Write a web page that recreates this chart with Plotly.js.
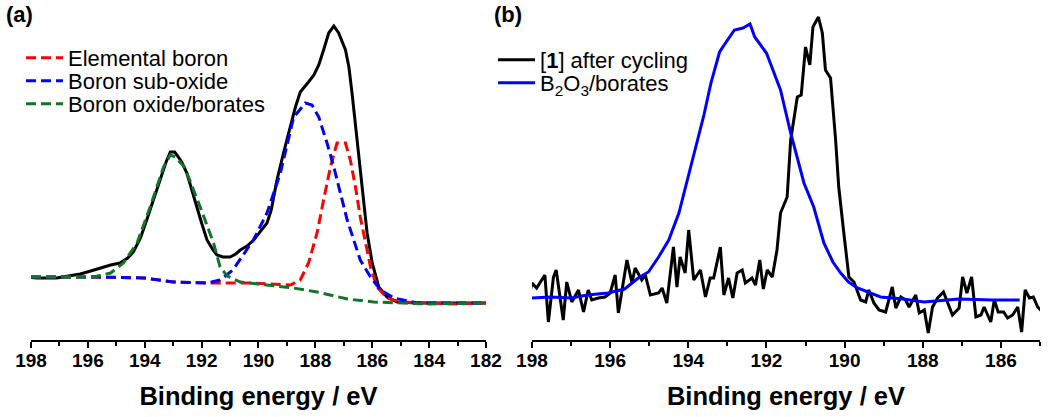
<!DOCTYPE html>
<html>
<head>
<meta charset="utf-8">
<script src="https://cdn.plot.ly/plotly-3.0.1.min.js"></script>
<style>html,body{margin:0;padding:0;background:#fff;}#chart{width:1050px;height:417px;}</style>
</head>
<body>
<div id="chart"></div>
<script>
// Panel (a): B 1s fit
const totalA_E = [198.15,197.8,197.1,196.6,196.27,195.9,195.57,195.2,194.87,194.6,194.4,194.15,193.93,193.7,193.46,193.25,193.1,192.95,192.87,192.7,192.52,192.35,192.17,192.0,191.81,191.6,191.46,191.25,191.0,190.8,190.64,190.4,190.17,189.95,189.7,189.55,189.35,189.12,188.88,188.7,188.53,188.4,188.24,188.05,187.88,187.71,187.53,187.35,187.18,186.94,186.82,186.71,186.53,186.35,186.18,186.0,185.77,185.48,185.12,184.42,183.5,182.5,181.95];
const totalA_I = [63,62,62,64,66,69,72,75,77,82,88,102,120,140,160,178,188,188,185,178,167,150,133,117,100,90,85,83,83,86,90,94,100,108,117,130,160,187,213,233,248,252,258,265,275,290,307,314,307,290,273,247,200,153,107,77,53,43,38,37,37,37,37];

const elemA_E = [198,196,194,193,191.6,190.29,188.88,188.53,188.24,187.94,187.71,187.47,187.24,186.94,186.77,186.59,186.42,186.24,186.06,185.83,185.48,185.0,184,183,182];
const elemA_I = [63,63,62,58,57,57,55,60,77,107,140,173,197,197,180,153,123,97,73,53,42,38,37,36,37];

const subA_E = [198,195.57,194.05,193.0,191.8,191.35,190.9,190.18,189.7,189.23,188.76,188.35,188.12,187.88,187.59,187.35,187.12,186.88,186.65,186.42,186.06,185.71,185.24,184.42,183,182];
const subA_I = [63,63,62,58,57,60,70,100,127,167,223,237,235,223,197,173,147,120,100,80,63,50,42,37,37,37];

const oxA_E = [198,195.8,195.2,194.75,194.27,193.81,193.34,193.1,192.93,192.6,192.05,191.58,191.35,191.1,190.64,189.7,188.77,187.94,186.87,185.95,185.0,184,182];
const oxA_I = [63,63,67,77,97,133,173,185,183,173,133,97,73,64,58,55,52,48,41,38,37,36,37];

// Panel (b)
const cycB_E = [198.12,198.0,197.88,197.67,197.58,197.45,197.38,197.2,197.11,196.98,196.81,196.68,196.56,196.47,196.3,196.13,196.0,195.87,195.79,195.57,195.44,195.36,195.19,195.1,194.97,194.76,194.67,194.55,194.38,194.29,194.21,194.08,193.99,193.86,193.69,193.56,193.44,193.35,193.18,193.09,192.97,192.86,192.75,192.62,192.54,192.37,192.28,192.17,192.08,191.98,191.85,191.73,191.64,191.47,191.38,191.3,191.21,191.11,191.0,190.89,190.81,190.67,190.57,190.49,190.36,190.23,190.15,190.02,189.89,189.76,189.59,189.46,189.38,189.25,189.12,188.95,188.78,188.69,188.56,188.44,188.35,188.18,188.09,187.96,187.86,187.75,187.62,187.47,187.37,187.24,187.07,186.98,186.87,186.75,186.64,186.51,186.43,186.26,186.17,186.07,185.93,185.83,185.7,185.57,185.47,185.38,185.27,185.17,185.06,184.93];
const cycB_I = [35,57,52,65,18,63,70,20,58,38,50,28,50,40,42,43,47,65,27,80,57,72,60,65,45,47,52,37,93,53,83,67,110,60,70,43,62,62,93,45,62,42,67,70,57,62,55,80,51,70,63,90,127,143,200,220,243,245,293,275,313,323,307,270,262,200,153,107,63,58,40,38,50,37,30,28,53,32,43,40,33,45,27,30,7,33,42,48,38,25,32,63,47,63,23,25,33,18,40,28,28,22,25,33,8,50,42,43,33,28];

const refB_E = [198,197.53,197.0,196.58,196.06,195.63,195.28,195.02,194.76,194.5,194.24,193.98,193.81,193.6,193.42,193.2,193.03,192.82,192.6,192.42,192.3,192.0,191.64,191.38,191.04,190.79,190.53,190.3,190.1,189.9,189.67,189.3,189.08,188.5,187.97,187.08,186.21,185.52];
const refB_I = [42,43,42,45,47,51,62,68,83,100,127,167,193,225,257,288,298,310,312,316,303,287,250,207,157,133,97,78,67,58,52,46,43,41,38,41,40,40];

const tickVals = [198,196,194,192,190,188,186,184,182];
const tickText = ['198','196','194','192','190','188','186','184','182'];

const FONT = 'Liberation Sans, Arial, sans-serif';
const RED = '#ff0000', BLUE = '#0000ff', GREEN = '#11742a', BLACK = '#000000';
const DASH = '10px,5px';

const traces = [
  {x: totalA_E, y: totalA_I, xaxis:'x', yaxis:'y', mode:'lines', line:{color:BLACK, width:3}, showlegend:false, name:'Total'},
  {x: elemA_E, y: elemA_I, xaxis:'x', yaxis:'y', mode:'lines', line:{color:RED, width:3, dash:DASH}, name:'Elemental boron', legend:'legend'},
  {x: subA_E, y: subA_I, xaxis:'x', yaxis:'y', mode:'lines', line:{color:BLUE, width:3, dash:DASH}, name:'Boron sub-oxide', legend:'legend2'},
  {x: oxA_E, y: oxA_I, xaxis:'x', yaxis:'y', mode:'lines', line:{color:GREEN, width:3, dash:DASH}, name:'Boron oxide/borates', legend:'legend3'},
  {x: cycB_E, y: cycB_I, xaxis:'x2', yaxis:'y2', mode:'lines', line:{color:BLACK, width:3}, name:'[<b>1</b>] after cycling', legend:'legend4'},
  {x: refB_E, y: refB_I, xaxis:'x2', yaxis:'y2', mode:'lines', line:{color:BLUE, width:3}, name:'B<sub>2</sub>O<sub>3</sub>/borates', legend:'legend5'}
];

const xCommon = {
  showline:true, linecolor:'#000', linewidth:2, mirror:false,
  ticks:'outside', ticklen:6, tickwidth:2, tickcolor:'#000',
  ticklabelstandoff:-4,
  showgrid:false, zeroline:false,
  tickfont:{family:FONT, size:19, color:'#000', weight:'bold'},
  minor:{dtick:1, ticks:'outside', ticklen:4, tickwidth:2, tickcolor:'#000', showgrid:false},
  tickmode:'array', tickvals:tickVals, ticktext:tickText,
  title:{text:'<b>Binding energy / eV</b>', font:{family:FONT, size:25.5, color:'#000'}, standoff:17}
};
const yCommon = {visible:false, range:[0,330], fixedrange:true, showgrid:false, zeroline:false};

function leg(x, py) {
  return {x:x, y:(340 - py) / 330, xanchor:'left', yanchor:'middle', bgcolor:'rgba(0,0,0,0)', borderwidth:0,
          font:{family:FONT, size:22, color:'#000'}, itemwidth:37, tracegroupgap:0};
}

const layout = {
  width:1050, height:417,
  margin:{l:31, r:10, t:10, b:77},
  paper_bgcolor:'#fff', plot_bgcolor:'#fff',
  showlegend:true,
  font:{family:FONT, color:'#000'},
  xaxis: Object.assign({}, xCommon, {domain:[0,0.4509], range:[198,182], anchor:'y'}),
  yaxis: Object.assign({}, yCommon, {domain:[0,1], anchor:'x'}),
  xaxis2: Object.assign({}, xCommon, {domain:[0.4965,1], range:[198,185], anchor:'y2'}),
  yaxis2: Object.assign({}, yCommon, {domain:[0,1], anchor:'x2'}),
  legend: leg(-0.0099, 58),
  legend2: leg(-0.0099, 81),
  legend3: leg(-0.0099, 104),
  legend4: leg(0.4579, 60),
  legend5: leg(0.4579, 83),
  annotations:[
    {text:'<b>(a)</b>', xref:'paper', yref:'paper', x:-0.027, y:(340-15)/330, xanchor:'left', yanchor:'middle', showarrow:false, font:{family:FONT, size:22, color:'#000'}},
    {text:'<b>(b)</b>', xref:'paper', yref:'paper', x:0.4569, y:(340-15)/330, xanchor:'left', yanchor:'middle', showarrow:false, font:{family:FONT, size:22, color:'#000'}}
  ]
};

Plotly.newPlot('chart', traces, layout, {staticPlot:true, displayModeBar:false});
</script>
</body>
</html>
